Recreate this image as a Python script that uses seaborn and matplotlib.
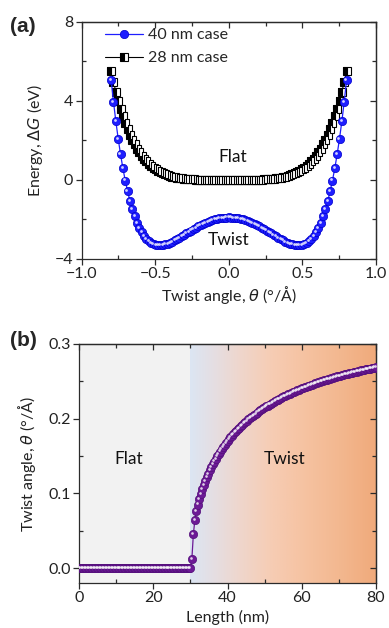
import numpy as np
import pandas as pd
import matplotlib
matplotlib.use("Agg")
import matplotlib.pyplot as plt
import matplotlib.transforms as mtransforms
from matplotlib.colors import LinearSegmentedColormap
from matplotlib.ticker import MultipleLocator
import seaborn as sns

# ---------------- data: panel (a) ----------------
theta_grid = [
    -0.800, -0.784, -0.768, -0.752, -0.736, -0.720, -0.704, -0.688, -0.672, -0.656,
    -0.640, -0.624, -0.608, -0.592, -0.576, -0.560, -0.544, -0.528, -0.512, -0.496,
    -0.480, -0.464, -0.448, -0.432, -0.416, -0.400, -0.384, -0.368, -0.352, -0.336,
    -0.320, -0.304, -0.288, -0.272, -0.256, -0.240, -0.224, -0.208, -0.192, -0.176,
    -0.160, -0.144, -0.128, -0.112, -0.096, -0.080, -0.064, -0.048, -0.032, -0.016,
    0.000,
    0.016, 0.032, 0.048, 0.064, 0.080, 0.096, 0.112, 0.128, 0.144, 0.160,
    0.176, 0.192, 0.208, 0.224, 0.240, 0.256, 0.272, 0.288, 0.304, 0.320,
    0.336, 0.352, 0.368, 0.384, 0.400, 0.416, 0.432, 0.448, 0.464, 0.480,
    0.496, 0.512, 0.528, 0.544, 0.560, 0.576, 0.592, 0.608, 0.624, 0.640,
    0.656, 0.672, 0.688, 0.704, 0.720, 0.736, 0.752, 0.768, 0.784, 0.800,
]

energy_40nm = [
    5.049, 3.954, 2.968, 2.084, 1.294, 0.590, -0.034, -0.584, -1.066, -1.486,
    -1.849, -2.161, -2.425, -2.646, -2.828, -2.975, -3.090, -3.177, -3.238, -3.278,
    -3.297, -3.299, -3.286, -3.260, -3.223, -3.176, -3.122, -3.061, -2.996, -2.927,
    -2.855, -2.782, -2.708, -2.634, -2.561, -2.490, -2.421, -2.355, -2.292, -2.232,
    -2.177, -2.126, -2.080, -2.038, -2.002, -1.971, -1.946, -1.926, -1.912, -1.903,
    -1.900,
    -1.903, -1.912, -1.926, -1.946, -1.971, -2.002, -2.038, -2.080, -2.126, -2.177,
    -2.232, -2.292, -2.355, -2.421, -2.490, -2.561, -2.634, -2.708, -2.782, -2.855,
    -2.927, -2.996, -3.061, -3.122, -3.176, -3.223, -3.260, -3.286, -3.299, -3.297,
    -3.278, -3.238, -3.177, -3.090, -2.975, -2.828, -2.646, -2.425, -2.161, -1.849,
    -1.486, -1.066, -0.584, -0.034, 0.590, 1.294, 2.084, 2.968, 3.954, 5.049,
]

energy_28nm = [
    5.500, 4.959, 4.464, 4.011, 3.598, 3.220, 2.877, 2.565, 2.282, 2.026,
    1.794, 1.585, 1.396, 1.227, 1.075, 0.939, 0.818, 0.710, 0.615, 0.530,
    0.455, 0.389, 0.331, 0.280, 0.236, 0.198, 0.165, 0.136, 0.112, 0.091,
    0.074, 0.059, 0.047, 0.037, 0.028, 0.022, 0.016, 0.012, 0.009, 0.006,
    0.004, 0.003, 0.002, 0.001, 0.001, 0.000, 0.000, 0.000, 0.000, 0.000,
    0.000,
    0.000, 0.000, 0.000, 0.000, 0.000, 0.001, 0.001, 0.002, 0.003, 0.004,
    0.006, 0.009, 0.012, 0.016, 0.022, 0.028, 0.037, 0.047, 0.059, 0.074,
    0.091, 0.112, 0.136, 0.165, 0.198, 0.236, 0.280, 0.331, 0.389, 0.455,
    0.530, 0.615, 0.710, 0.818, 0.939, 1.075, 1.227, 1.396, 1.585, 1.794,
    2.026, 2.282, 2.565, 2.877, 3.220, 3.598, 4.011, 4.464, 4.959, 5.500,
]

series_labels = ["40 nm case", "28 nm case"]

# ---------------- data: panel (b) ----------------
length_nm = [
    0.0, 0.4, 0.8, 1.2, 1.6, 2.0, 2.4, 2.8, 3.2, 3.6,
    4.0, 4.4, 4.8, 5.2, 5.6, 6.0, 6.4, 6.8, 7.2, 7.6,
    8.0, 8.4, 8.8, 9.2, 9.6, 10.0, 10.4, 10.8, 11.2, 11.6,
    12.0, 12.4, 12.8, 13.2, 13.6, 14.0, 14.4, 14.8, 15.2, 15.6,
    16.0, 16.4, 16.8, 17.2, 17.6, 18.0, 18.4, 18.8, 19.2, 19.6,
    20.0, 20.4, 20.8, 21.2, 21.6, 22.0, 22.4, 22.8, 23.2, 23.6,
    24.0, 24.4, 24.8, 25.2, 25.6, 26.0, 26.4, 26.8, 27.2, 27.6,
    28.0, 28.4, 28.8, 29.2, 29.6, 30.0, 30.4, 30.8, 31.2, 31.6,
    32.0, 32.4, 32.8, 33.2, 33.6, 34.0, 34.4, 34.8, 35.2, 35.6,
    36.0, 36.4, 36.8, 37.2, 37.6, 38.0, 38.4, 38.8, 39.2, 39.6,
    40.0, 40.4, 40.8, 41.2, 41.6, 42.0, 42.4, 42.8, 43.2, 43.6,
    44.0, 44.4, 44.8, 45.2, 45.6, 46.0, 46.4, 46.8, 47.2, 47.6,
    48.0, 48.4, 48.8, 49.2, 49.6, 50.0, 50.4, 50.8, 51.2, 51.6,
    52.0, 52.4, 52.8, 53.2, 53.6, 54.0, 54.4, 54.8, 55.2, 55.6,
    56.0, 56.4, 56.8, 57.2, 57.6, 58.0, 58.4, 58.8, 59.2, 59.6,
    60.0, 60.4, 60.8, 61.2, 61.6, 62.0, 62.4, 62.8, 63.2, 63.6,
    64.0, 64.4, 64.8, 65.2, 65.6, 66.0, 66.4, 66.8, 67.2, 67.6,
    68.0, 68.4, 68.8, 69.2, 69.6, 70.0, 70.4, 70.8, 71.2, 71.6,
    72.0, 72.4, 72.8, 73.2, 73.6, 74.0, 74.4, 74.8, 75.2, 75.6,
    76.0, 76.4, 76.8, 77.2, 77.6, 78.0, 78.4, 78.8, 79.2, 79.6,
    80.0,
]

twist_angle = [
    0.0, 0.0, 0.0, 0.0, 0.0, 0.0, 0.0, 0.0, 0.0, 0.0,
    0.0, 0.0, 0.0, 0.0, 0.0, 0.0, 0.0, 0.0, 0.0, 0.0,
    0.0, 0.0, 0.0, 0.0, 0.0, 0.0, 0.0, 0.0, 0.0, 0.0,
    0.0, 0.0, 0.0, 0.0, 0.0, 0.0, 0.0, 0.0, 0.0, 0.0,
    0.0, 0.0, 0.0, 0.0, 0.0, 0.0, 0.0, 0.0, 0.0, 0.0,
    0.0, 0.0, 0.0, 0.0, 0.0, 0.0, 0.0, 0.0, 0.0, 0.0,
    0.0, 0.0, 0.0, 0.0, 0.0, 0.0, 0.0, 0.0, 0.0, 0.0,
    0.0, 0.0, 0.0, 0.0, 0.0, 0.0, 0.012, 0.045, 0.064, 0.076,
    0.0850, 0.0925, 0.0993, 0.1056, 0.1113, 0.1166, 0.1216, 0.1263, 0.1307, 0.1349,
    0.1388, 0.1426, 0.1462, 0.1496, 0.1529, 0.1560, 0.1590, 0.1619, 0.1647, 0.1674,
    0.1700, 0.1725, 0.1749, 0.1773, 0.1795, 0.1817, 0.1839, 0.1859, 0.1879, 0.1899,
    0.1918, 0.1936, 0.1954, 0.1972, 0.1989, 0.2005, 0.2021, 0.2037, 0.2052, 0.2067,
    0.2082, 0.2096, 0.2110, 0.2124, 0.2137, 0.2150, 0.2163, 0.2176, 0.2188, 0.2200,
    0.2212, 0.2223, 0.2234, 0.2245, 0.2256, 0.2267, 0.2277, 0.2287, 0.2297, 0.2307,
    0.2317, 0.2326, 0.2335, 0.2345, 0.2354, 0.2362, 0.2371, 0.2380, 0.2388, 0.2396,
    0.2404, 0.2412, 0.2420, 0.2428, 0.2435, 0.2443, 0.2450, 0.2457, 0.2464, 0.2471,
    0.2478, 0.2485, 0.2492, 0.2498, 0.2505, 0.2511, 0.2517, 0.2524, 0.2530, 0.2536,
    0.2542, 0.2548, 0.2553, 0.2559, 0.2565, 0.2570, 0.2576, 0.2581, 0.2586, 0.2592,
    0.2597, 0.2602, 0.2607, 0.2612, 0.2617, 0.2622, 0.2627, 0.2631, 0.2636, 0.2641,
    0.2645, 0.2650, 0.2654, 0.2659, 0.2663, 0.2667, 0.2671, 0.2676, 0.2680, 0.2684,
    0.2688,
]

critical_length = 30.0

# ---------------- style ----------------
sns.set_theme(style="ticks")
plt.rcParams["font.family"] = ["Lato", "DejaVu Sans"]
plt.rcParams["mathtext.fontset"] = "dejavusans"
plt.rcParams["axes.unicode_minus"] = True

BLUE = "#1e1eff"
PURPLE = "#6c1a96"
SPINE = "#2b2b2b"
FS = 11.5

fig = plt.figure(figsize=(3.89, 6.28), dpi=100)
axA = fig.add_axes([0.210, 0.5876, 0.7566, 0.3779])
axB = fig.add_axes([0.2031, 0.0717, 0.7635, 0.3806])


def highlight(ax, x, y, size):
    off = mtransforms.ScaledTranslation(-0.8 / 72, 0.8 / 72, fig.dpi_scale_trans)
    ax.plot(x, y, ls="none", marker="o", ms=size, color="white", alpha=0.8,
            mew=0, transform=ax.transData + off, zorder=5)


def style_axes(ax):
    for s in ax.spines.values():
        s.set_color(SPINE)
        s.set_linewidth(0.9)
    ax.tick_params(which="major", direction="out", length=4, width=0.9,
                   color=SPINE, labelsize=FS, pad=2, labelcolor="#222222")
    ax.tick_params(which="minor", direction="in", length=3, width=0.9, color=SPINE)


def mirror_ticks(ax, xmaj, xmin, ymaj, ymin):
    sx = ax.secondary_xaxis("top")
    sx.xaxis.set_major_locator(MultipleLocator(xmaj))
    sx.xaxis.set_minor_locator(MultipleLocator(xmin))
    sx.tick_params(which="major", direction="in", length=4, width=0.9, color=SPINE,
                   labeltop=False)
    sx.tick_params(which="minor", direction="in", length=3, width=0.9, color=SPINE)
    sy = ax.secondary_yaxis("right")
    sy.yaxis.set_major_locator(MultipleLocator(ymaj))
    sy.yaxis.set_minor_locator(MultipleLocator(ymin))
    sy.tick_params(which="major", direction="in", length=4, width=0.9, color=SPINE,
                   labelright=False)
    sy.tick_params(which="minor", direction="in", length=3, width=0.9, color=SPINE)
    for s in list(sx.spines.values()) + list(sy.spines.values()):
        s.set_color(SPINE)
        s.set_linewidth(0.9)


# ---------------- panel (a) ----------------
dfA = pd.DataFrame({"theta": theta_grid, "E40": energy_40nm, "E28": energy_28nm})

sns.lineplot(data=dfA, x="theta", y="E28", ax=axA, sort=False, estimator=None,
             color="black", linewidth=0.8, marker="s", markersize=5.2,
             fillstyle="left", markerfacecolor="black", markerfacecoloralt="white",
             markeredgecolor="black", markeredgewidth=0.8, label=series_labels[1],
             legend=False)
sns.lineplot(data=dfA, x="theta", y="E40", ax=axA, sort=False, estimator=None,
             color=BLUE, linewidth=0.9, marker="o", markersize=6.0,
             markerfacecolor=BLUE, markeredgecolor="#0000cc", markeredgewidth=0.5,
             label=series_labels[0], legend=False)
highlight(axA, dfA["theta"], dfA["E40"], 2.0)

lines = axA.get_lines()
h28, h40 = lines[0], lines[1]
leg = axA.legend(handles=[h40, h28], labels=series_labels, loc="upper left",
                 bbox_to_anchor=(0.079, 0.972), frameon=False, borderaxespad=0,
                 borderpad=0, handlelength=2.4, handletextpad=0.3,
                 labelspacing=0.55, fontsize=FS, numpoints=1)

axA.set_xlim(-1.0, 1.0)
axA.set_ylim(-4, 8)
axA.xaxis.set_major_locator(MultipleLocator(0.5))
axA.xaxis.set_minor_locator(MultipleLocator(0.25))
axA.yaxis.set_major_locator(MultipleLocator(4))
axA.yaxis.set_minor_locator(MultipleLocator(2))
axA.set_xticklabels([f"{v:.1f}".replace("-", "\u2212") for v in axA.get_xticks()])
style_axes(axA)
mirror_ticks(axA, 0.5, 0.25, 4, 2)
axA.set_xlabel(r"Twist angle, $\theta$ (°/Å)", fontsize=FS, labelpad=2, color="#222222")
axA.set_ylabel(r"Energy, $\Delta G$ (eV)", fontsize=FS, labelpad=7, color="#222222")
axA.text(0.024, 1.18, "Flat", ha="center", va="center", fontsize=12.5, color="#111111")
axA.text(0.0, -3.03, "Twist", ha="center", va="center", fontsize=12.5, color="#111111")

# ---------------- panel (b) ----------------
dfB = pd.DataFrame({"L": length_nm, "theta": twist_angle})

axB.axvspan(0, critical_length, color="#f2f2f2", zorder=0, lw=0)
grad_cmap = LinearSegmentedColormap.from_list("twistbg", [
    (0.00, (220 / 255, 230 / 255, 243 / 255)),
    (0.13, (229 / 255, 222 / 255, 226 / 255)),
    (0.27, (239 / 255, 214 / 255, 204 / 255)),
    (0.43, (246 / 255, 205 / 255, 181 / 255)),
    (0.59, (246 / 255, 196 / 255, 164 / 255)),
    (0.80, (243 / 255, 184 / 255, 144 / 255)),
    (1.00, (240 / 255, 170 / 255, 123 / 255)),
])
axB.imshow(np.linspace(0, 1, 256)[None, :], extent=[critical_length, 80, -0.02, 0.3],
           aspect="auto", cmap=grad_cmap, zorder=0, interpolation="bilinear")

sns.lineplot(data=dfB, x="L", y="theta", ax=axB, sort=False, estimator=None,
             color=PURPLE, linewidth=0.9, marker="o", markersize=6.0,
             markerfacecolor=PURPLE, markeredgecolor="#54107a", markeredgewidth=0.5,
             legend=False, zorder=3)
highlight(axB, dfB["L"], dfB["theta"], 1.9)

axB.set_xlim(0, 80)
axB.set_ylim(-0.02, 0.3)
axB.xaxis.set_major_locator(MultipleLocator(20))
axB.xaxis.set_minor_locator(MultipleLocator(10))
axB.yaxis.set_major_locator(MultipleLocator(0.1))
axB.yaxis.set_minor_locator(MultipleLocator(0.05))
axB.yaxis.set_major_formatter(matplotlib.ticker.FormatStrFormatter("%.1f"))
style_axes(axB)
mirror_ticks(axB, 20, 10, 0.1, 0.05)
axB.set_xlabel("Length (nm)", fontsize=FS, labelpad=3, color="#222222")
axB.set_ylabel(r"Twist angle, $\theta$ (°/Å)", fontsize=FS, labelpad=7, color="#222222")
axB.text(13.3, 0.146, "Flat", ha="center", va="center", fontsize=12.5, color="#111111")
axB.text(55.5, 0.146, "Twist", ha="center", va="center", fontsize=12.5, color="#111111")

# panel tags
fig.text(22.5 / 389, 1 - 26.5 / 628, "(a)", ha="center", va="center", fontsize=15,
         fontweight="bold", family=["Liberation Sans", "DejaVu Sans"])
fig.text(23 / 389, 1 - 340 / 628, "(b)", ha="center", va="center", fontsize=15,
         fontweight="bold", family=["Liberation Sans", "DejaVu Sans"])

fig.savefig("out.png", dpi=100, facecolor="white")
